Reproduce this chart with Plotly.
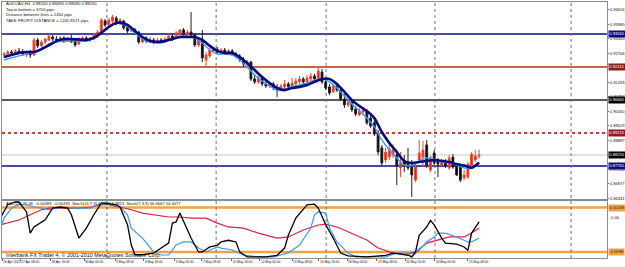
import plotly.graph_objects as go

# ---------------- data ----------------
bars = list(range(4, 132))
opens = [0.9264, 0.9268, 0.9277, 0.9273, 0.9282, 0.9277, 0.9268, 0.9273, 0.9264, 0.9330,
         0.9304, 0.9321, 0.9330, 0.9343, 0.9334, 0.9330, 0.9339, 0.9325, 0.9334, 0.9330,
         0.9312, 0.9330, 0.9339, 0.9330, 0.9334, 0.9347, 0.9365, 0.9413, 0.9396, 0.9413,
         0.9426, 0.9404, 0.9413, 0.9387, 0.9369, 0.9374, 0.9365, 0.9321, 0.9339, 0.9325,
         0.9330, 0.9321, 0.9330, 0.9325, 0.9334, 0.9347, 0.9339, 0.9356, 0.9374, 0.9356,
         0.9365, 0.9352, 0.9308, 0.9330, 0.9242, 0.9260, 0.9282, 0.9290, 0.9277, 0.9286,
         0.9273, 0.9282, 0.9268, 0.9260, 0.9242, 0.9224, 0.9233, 0.9159, 0.9146, 0.9163,
         0.9137, 0.9128, 0.9137, 0.9119, 0.9110, 0.9124, 0.9137, 0.9124, 0.9137, 0.9146,
         0.9159, 0.9146, 0.9159, 0.9172, 0.9159, 0.9189, 0.9146, 0.9124, 0.9102, 0.9128,
         0.9110, 0.9071, 0.9045, 0.9058, 0.9027, 0.9001, 0.9014, 0.9018, 0.8987, 0.8966,
         0.8922, 0.8856, 0.8803, 0.8816, 0.8825, 0.8825, 0.8768, 0.8803, 0.8794, 0.8781,
         0.8715, 0.8803, 0.8816, 0.8869, 0.8759, 0.8834, 0.8803, 0.8781, 0.8799, 0.8768,
         0.8816, 0.8781, 0.8772, 0.8724, 0.8728, 0.8777, 0.8803, 0.8820]
highs = [0.9277, 0.9286, 0.9286, 0.9290, 0.9295, 0.9290, 0.9282, 0.9286, 0.9339, 0.9339,
         0.9330, 0.9339, 0.9356, 0.9352, 0.9347, 0.9347, 0.9347, 0.9343, 0.9352, 0.9339,
         0.9343, 0.9347, 0.9347, 0.9343, 0.9361, 0.9374, 0.9426, 0.9422, 0.9426, 0.9440,
         0.9435, 0.9426, 0.9418, 0.9396, 0.9387, 0.9383, 0.9369, 0.9347, 0.9347, 0.9343,
         0.9339, 0.9339, 0.9339, 0.9343, 0.9356, 0.9356, 0.9369, 0.9378, 0.9383, 0.9374,
         0.9453, 0.9361, 0.9339, 0.9374, 0.9277, 0.9295, 0.9299, 0.9299, 0.9295, 0.9295,
         0.9290, 0.9290, 0.9277, 0.9268, 0.9255, 0.9242, 0.9238, 0.9181, 0.9172, 0.9172,
         0.9154, 0.9146, 0.9146, 0.9137, 0.9137, 0.9154, 0.9146, 0.9163, 0.9163, 0.9172,
         0.9167, 0.9176, 0.9185, 0.9181, 0.9207, 0.9203, 0.9159, 0.9137, 0.9137, 0.9132,
         0.9119, 0.9093, 0.9066, 0.9066, 0.9040, 0.9031, 0.9027, 0.9027, 0.9001, 0.8979,
         0.8935, 0.8869, 0.8856, 0.8869, 0.8873, 0.8847, 0.8838, 0.8825, 0.8856, 0.8803,
         0.8790, 0.8891, 0.8887, 0.8891, 0.8821, 0.8847, 0.8812, 0.8807, 0.8807, 0.8825,
         0.8829, 0.8790, 0.8785, 0.8759, 0.8794, 0.8838, 0.8847, 0.8849]
lows = [0.9251, 0.9260, 0.9264, 0.9264, 0.9268, 0.9260, 0.9255, 0.9251, 0.9260, 0.9295,
        0.9299, 0.9312, 0.9325, 0.9325, 0.9325, 0.9325, 0.9317, 0.9321, 0.9317, 0.9299,
        0.9308, 0.9325, 0.9321, 0.9321, 0.9330, 0.9339, 0.9361, 0.9387, 0.9391, 0.9404,
        0.9396, 0.9396, 0.9374, 0.9361, 0.9365, 0.9356, 0.9312, 0.9317, 0.9317, 0.9317,
        0.9312, 0.9317, 0.9317, 0.9321, 0.9330, 0.9325, 0.9334, 0.9352, 0.9347, 0.9343,
        0.9347, 0.9299, 0.9299, 0.9233, 0.9207, 0.9251, 0.9273, 0.9268, 0.9268, 0.9264,
        0.9264, 0.9260, 0.9251, 0.9233, 0.9211, 0.9216, 0.9150, 0.9137, 0.9137, 0.9128,
        0.9119, 0.9119, 0.9110, 0.9080, 0.9106, 0.9115, 0.9115, 0.9115, 0.9128, 0.9137,
        0.9137, 0.9137, 0.9150, 0.9150, 0.9150, 0.9137, 0.9110, 0.9088, 0.9097, 0.9102,
        0.9062, 0.9031, 0.9036, 0.9014, 0.8996, 0.8996, 0.9005, 0.8957, 0.8944, 0.8908,
        0.8825, 0.8777, 0.8790, 0.8803, 0.8812, 0.8693, 0.8728, 0.8750, 0.8759, 0.8641,
        0.8706, 0.8794, 0.8772, 0.8768, 0.8750, 0.8781, 0.8728, 0.8772, 0.8768, 0.8759,
        0.8764, 0.8733, 0.8706, 0.8715, 0.8720, 0.8768, 0.8794, 0.8809]
closes = [0.9268, 0.9277, 0.9273, 0.9282, 0.9277, 0.9268, 0.9273, 0.9264, 0.9330, 0.9304,
          0.9321, 0.9334, 0.9347, 0.9334, 0.9330, 0.9339, 0.9325, 0.9334, 0.9321, 0.9308,
          0.9334, 0.9339, 0.9330, 0.9339, 0.9352, 0.9365, 0.9418, 0.9396, 0.9418, 0.9431,
          0.9404, 0.9418, 0.9383, 0.9369, 0.9378, 0.9365, 0.9321, 0.9339, 0.9325, 0.9334,
          0.9321, 0.9330, 0.9325, 0.9334, 0.9347, 0.9334, 0.9361, 0.9374, 0.9356, 0.9365,
          0.9352, 0.9308, 0.9330, 0.9251, 0.9264, 0.9286, 0.9290, 0.9277, 0.9286, 0.9273,
          0.9282, 0.9268, 0.9260, 0.9242, 0.9224, 0.9233, 0.9159, 0.9146, 0.9163, 0.9137,
          0.9128, 0.9137, 0.9119, 0.9110, 0.9128, 0.9137, 0.9124, 0.9141, 0.9150, 0.9159,
          0.9146, 0.9163, 0.9172, 0.9159, 0.9194, 0.9146, 0.9119, 0.9097, 0.9128, 0.9110,
          0.9071, 0.9045, 0.9058, 0.9023, 0.9005, 0.9018, 0.9023, 0.8966, 0.8952, 0.8917,
          0.8838, 0.8790, 0.8838, 0.8851, 0.8847, 0.8777, 0.8790, 0.8777, 0.8768, 0.8737,
          0.8772, 0.8834, 0.8847, 0.8781, 0.8812, 0.8790, 0.8785, 0.8799, 0.8777, 0.8812,
          0.8772, 0.8737, 0.8715, 0.8737, 0.8785, 0.8829, 0.8821, 0.8825]

ma_idx = [4, 8, 10, 12, 14, 16, 18, 20, 22, 24, 26, 28, 30, 32, 34, 35, 37, 39, 41, 43,
          45, 47, 49, 51, 53, 55, 57, 59, 61, 63, 65, 67, 69, 71, 73, 75, 77, 79, 81, 83,
          85, 87, 89, 91, 93, 95, 97, 99, 101, 103, 105, 107, 109, 111, 113, 115, 117, 119, 121, 123,
          125, 127, 129, 131]
ma_slow = [0.9255, 0.9273, 0.9277, 0.9277, 0.9290, 0.9308, 0.9325, 0.9334, 0.9334, 0.9332,
           0.9330, 0.9339, 0.9361, 0.9387, 0.9404, 0.9406, 0.9396, 0.9369, 0.9343, 0.9325,
           0.9321, 0.9325, 0.9334, 0.9343, 0.9343, 0.9343, 0.9330, 0.9304, 0.9282, 0.9273,
           0.9273, 0.9255, 0.9229, 0.9198, 0.9167, 0.9141, 0.9119, 0.9110, 0.9119, 0.9124,
           0.9132, 0.9146, 0.9159, 0.9159, 0.9137, 0.9102, 0.9066, 0.9040, 0.9018, 0.8987,
           0.8926, 0.8878, 0.8838, 0.8797, 0.8790, 0.8794, 0.8799, 0.8803, 0.8799, 0.8794,
           0.8785, 0.8779, 0.8768, 0.8792]
ma_fast = [0.9242, 0.9260, 0.9268, 0.9273, 0.9286, 0.9304, 0.9321, 0.9325, 0.9325, 0.9325,
           0.9325, 0.9339, 0.9365, 0.9391, 0.9404, 0.9404, 0.9387, 0.9361, 0.9334, 0.9321,
           0.9317, 0.9321, 0.9334, 0.9347, 0.9347, 0.9339, 0.9317, 0.9286, 0.9268, 0.9268,
           0.9264, 0.9242, 0.9211, 0.9176, 0.9150, 0.9128, 0.9110, 0.9115, 0.9124, 0.9132,
           0.9141, 0.9154, 0.9159, 0.9146, 0.9119, 0.9084, 0.9049, 0.9018, 0.8987, 0.8948,
           0.8891, 0.8847, 0.8812, 0.8781, 0.8777, 0.8799, 0.8812, 0.8807, 0.8794, 0.8790,
           0.8781, 0.8768, 0.8768, 0.8790]

level_prices = [0.93565, 0.92115, 0.90665, 0.89215, 0.87765]
current_price = 0.88250
price_ticks = [0.94616, 0.93980, 0.93343, 0.92706, 0.91433, 0.90797,
               0.90160, 0.89523, 0.88887, 0.87614, 0.86977, 0.86341]

stoch_main_idx = [3, 5, 7, 8, 10, 11, 12, 14, 15, 17, 19, 21, 22, 24, 26, 28, 30, 31, 34, 35,
                  37, 38, 39, 41, 44, 46, 48, 49, 50, 51, 52, 54, 56, 57, 59, 61, 62, 64, 66, 67,
                  69, 74, 77, 79, 80, 82, 85, 87, 88, 90, 92, 94, 96, 101, 106, 108, 110, 112, 113, 114,
                  115, 117, 118, 119, 121, 122, 125, 127, 128, 129, 131]
stoch_main = [71, 95, 100, 100, 82, 44, 55, 64, 68, 89, 91, 89, 77, 35, 53, 77, 98, 98, 95, 91,
              59, 23, 5, 5, 8, 17, 26, 62, 64, 80, 64, 35, 10, 10, 19, 22, 28, 31, 28, 10,
              1, 1, 4, 17, 40, 71, 95, 96, 89, 59, 35, 8, 3, 1, 4, 8, 6, 4, 1, 10,
              40, 55, 67, 59, 35, 26, 24, 19, 13, 44, 64]
stoch_signal_idx = [3, 4, 6, 8, 10, 12, 14, 16, 18, 21, 22, 24, 27, 29, 31, 33, 35, 37, 38, 41,
                    44, 46, 48, 50, 52, 54, 56, 58, 61, 62, 65, 68, 72, 76, 80, 83, 86, 87, 88, 90,
                    91, 93, 96, 98, 103, 106, 109, 112, 113, 115, 117, 119, 120, 122, 125, 128, 129, 131]
stoch_signal = [53, 71, 89, 95, 95, 91, 89, 86, 89, 91, 89, 89, 89, 95, 96, 95, 91, 77, 53, 35,
                10, 4.5, 4.5, 22.5, 28, 28, 17, 10, 19, 17, 13.5, 4.5, 1, 1, 8, 22.5, 53, 77, 82, 80,
                53, 28, 8, 1, 1, 1, 8, 8, 1, 13.5, 28, 37, 44, 44, 37, 28, 28, 35]
stoch_slow_idx = [3, 6, 8, 11, 14, 16, 19, 22, 24, 27, 30, 32, 35, 38, 41, 44, 48, 51, 54, 58,
                  61, 64, 68, 72, 77, 80, 84, 88, 90, 93, 96, 101, 104, 108, 112, 114, 117, 120, 123, 127,
                  129, 131]
stoch_slow = [59, 64, 67.6, 77, 86, 89, 89, 89, 89, 91, 95, 95, 91, 86, 80, 77, 73, 73, 71, 71,
              62, 55, 53, 44, 35, 37, 49.5, 58.6, 60, 55, 46, 31.5, 17, 8, 6, 10, 26, 31.5, 37, 37,
              44, 53]
stoch_levels = [90, 10]

time_labels = ["26 Apr 2010", "27 Apr 08:00", "28 Apr 16:00", "30 Apr 00:00", "3 May 08:00",
               "4 May 16:00", "6 May 00:00", "7 May 08:00", "10 May 16:00", "12 May 00:00",
               "13 May 08:00", "14 May 16:00", "18 May 00:00", "19 May 08:00", "20 May 16:00",
               "24 May 00:00", "25 May 08:00"]
time_pos = [3.5, 8.3, 16.4, 25.4, 33.7, 41.4, 49.7, 56.9, 64.9, 72.4, 81.0, 88.2, 95.7,
            103.7, 111.2, 119.2, 128.0]
separators = [31.5, 60.7, 90.1, 119.2, 155.6]

header_lines = ["AUDCAD,H4  0.88200 0.88490 0.88090 0.88250",
                "Top to bottom = 6700 pips",
                "Distance between lines = 1450 pips",
                "TAKE PROFIT DISTANCE = 1242.8571 pips"]
indicator_title = ("ASC(20) 26.36  -0.00383  -0.00495  Stoch(14,7,3) 4.3923 8.9823  "
                   "Stoch(7,3,3) 66.6667 54.4077")
copyright_text = "Interbank FX Trader 4, \u00a9 2001-2010 MetaQuotes Software Corp."

# ---------------- figure ----------------
FONT = "Liberation Sans, Arial, sans-serif"
XR = [3.45, 165.2]

fig = go.Figure()

fig.add_trace(go.Candlestick(
    x=bars, open=opens, high=highs, low=lows, close=closes,
    xaxis="x", yaxis="y", whiskerwidth=0,
    increasing=dict(line=dict(color="#f04a30", width=1), fillcolor="#ff1010"),
    decreasing=dict(line=dict(color="#202020", width=1), fillcolor="#000000"),
    hoverinfo="skip"))

fig.add_trace(go.Scatter(x=ma_idx, y=ma_fast, mode="lines", xaxis="x", yaxis="y",
                         line=dict(color="#3d9cf0", width=1.4, shape="spline", smoothing=0.6)))
fig.add_trace(go.Scatter(x=ma_idx, y=ma_slow, mode="lines", xaxis="x", yaxis="y",
                         line=dict(color="#0a0a80", width=2.6, shape="spline", smoothing=0.6)))

fig.add_trace(go.Scatter(x=stoch_slow_idx, y=stoch_slow, mode="lines", xaxis="x2", yaxis="y2",
                         line=dict(color="#e3203e", width=1.2)))
fig.add_trace(go.Scatter(x=stoch_signal_idx, y=stoch_signal, mode="lines", xaxis="x2", yaxis="y2",
                         line=dict(color="#3a9af5", width=1.2)))
fig.add_trace(go.Scatter(x=stoch_main_idx, y=stoch_main, mode="lines", xaxis="x2", yaxis="y2",
                         line=dict(color="#000000", width=1.3)))

shapes = []
level_styles = [("#0c0c84", 1.6, "solid"), ("#bf6a45", 2.0, "solid"), ("#5a5a5a", 2.0, "solid"),
                ("#cc3b3b", 2.0, "dot"), ("#0c0c84", 1.6, "solid")]
for p, (c, w, d) in zip(level_prices, level_styles):
    shapes.append(dict(type="line", xref="paper", yref="y", x0=0, x1=1, y0=p, y1=p,
                       line=dict(color=c, width=w, dash=d), layer="below"))
shapes.append(dict(type="line", xref="paper", yref="y", x0=0, x1=1, y0=current_price, y1=current_price,
                   line=dict(color="#c8c8c8", width=1), layer="below"))
for lv in stoch_levels:
    shapes.append(dict(type="line", xref="paper", yref="y2", x0=0, x1=1, y0=lv, y1=lv,
                       line=dict(color="#f5a145", width=2.4), layer="below"))
for s in separators:
    shapes.append(dict(type="line", xref="x", yref="paper", x0=s, x1=s, y0=0, y1=1,
                       line=dict(color="#707070", width=1, dash="dot"), layer="below"))

ann = []
def paper_y(py):
    return (258 - py) / 256.0

for k, (txt, py) in enumerate(zip(header_lines, [3.6, 9.1, 14.6, 20.1])):
    ann.append(dict(text=txt, xref="paper", yref="paper", x=0.0033, y=paper_y(py),
                    xanchor="left", yanchor="middle", showarrow=False,
                    font=dict(family=FONT, size=4.2, color="#111111")))
ann.append(dict(text=indicator_title, xref="paper", yref="paper", x=0.0033, y=paper_y(203.5),
                xanchor="left", yanchor="middle", showarrow=False,
                font=dict(family=FONT, size=4.1, color="#111111")))
ann.append(dict(text=copyright_text, xref="paper", yref="paper", x=0.0033, y=paper_y(255),
                xanchor="left", yanchor="middle", showarrow=False,
                font=dict(family=FONT, size=5.4, color="#111111")))

BOXF = 4.1
box_colors = ["#0c0c84", "#8b1c1c", "#000000", "#8b1c1c", "#0c0c84"]
for p, bc in zip(level_prices, box_colors):
    ann.append(dict(text="%.5f" % p, xref="paper", yref="y", x=1.002, y=p, xanchor="left",
                    yanchor="middle", showarrow=False, bgcolor=bc, borderpad=0.3,
                    font=dict(family=FONT, size=BOXF, color="#ffffff")))
ann.append(dict(text="%.5f" % current_price, xref="paper", yref="y", x=1.002, y=current_price,
                xanchor="left", yanchor="middle", showarrow=False, bgcolor="#000000", borderpad=0.3,
                font=dict(family=FONT, size=BOXF, color="#ffffff")))
for lv, t in zip(stoch_levels, ["0.00239", "-0.0098"]):
    ann.append(dict(text=t, xref="paper", yref="y2", x=1.002, y=lv, xanchor="left",
                    yanchor="middle", showarrow=False, bgcolor="#f5a145", borderpad=0.3,
                    font=dict(family=FONT, size=BOXF, color="#222222")))
ann.append(dict(text="0.00", xref="paper", yref="y2", x=1.004, y=72, xanchor="left",
                yanchor="middle", showarrow=False, font=dict(family=FONT, size=BOXF, color="#111111")))

axis_common = dict(showline=True, mirror=True, linecolor="#8c8c8c", linewidth=1,
                   showgrid=False, zeroline=False, fixedrange=True, automargin=False)

fig.update_layout(
    width=625, height=267,
    margin=dict(l=2, r=18, t=2, b=9, autoexpand=False),
    paper_bgcolor="#ffffff", plot_bgcolor="#ffffff",
    showlegend=False,
    xaxis=dict(domain=[0, 1], range=XR, anchor="y", showticklabels=False, ticks="",
               rangeslider=dict(visible=False), **axis_common),
    yaxis=dict(domain=[0.2305, 1], range=[0.86318, 0.94967], side="right", anchor="x",
               tickvals=price_ticks, ticktext=["%.5f" % v for v in price_ticks],
               ticks="outside", ticklen=1, tickcolor="#666666",
               tickfont=dict(family=FONT, size=4.1, color="#111111"), **axis_common),
    xaxis2=dict(domain=[0, 1], range=XR, anchor="y2", tickvals=time_pos, ticktext=time_labels,
                ticks="outside", ticklen=2, tickcolor="#666666", ticklabelposition="outside right",
                tickangle=0,
                tickfont=dict(family=FONT, size=3.2, color="#111111"), **axis_common),
    yaxis2=dict(domain=[0, 0.2227], range=[-0.9, 101.8], side="right", anchor="x2",
                showticklabels=False, ticks="", **axis_common),
    shapes=shapes, annotations=ann,
)

fig.write_html("out.html")
